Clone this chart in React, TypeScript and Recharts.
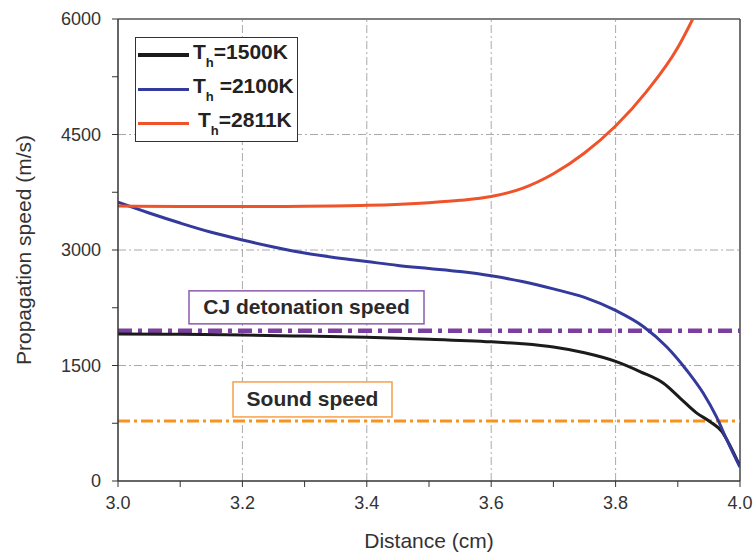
import React from "react";
import {
  LineChart,
  Line,
  XAxis,
  YAxis,
  ReferenceLine,
} from "recharts";

const FONT = '"Liberation Sans", Arial, Helvetica, sans-serif';

// T_h = 1500K
const dist1500 = [3.0, 3.1, 3.2, 3.3, 3.4, 3.5, 3.6, 3.65, 3.7, 3.75, 3.8, 3.84, 3.877, 3.904, 3.93, 3.952, 3.971, 3.98, 4.0];
const speed1500 = [1910, 1905, 1895, 1882, 1866, 1842, 1808, 1782, 1740, 1665, 1553, 1418, 1269, 1074, 885, 770, 640, 520, 190];

// T_h = 2100K
const dist2100 = [3.0, 3.05, 3.1, 3.15, 3.2, 3.25, 3.3, 3.35, 3.4, 3.45, 3.5, 3.55, 3.6, 3.65, 3.7, 3.75, 3.8, 3.845, 3.882, 3.914, 3.941, 3.962, 3.979, 4.0];
const speed2100 = [3620, 3480, 3350, 3230, 3130, 3040, 2960, 2900, 2850, 2800, 2760, 2720, 2665, 2590, 2495, 2385, 2215, 2004, 1744, 1442, 1139, 835, 532, 180];

// T_h = 2811K
const dist2811 = [3.0, 3.1, 3.2, 3.3, 3.4, 3.5, 3.55, 3.6, 3.65, 3.7, 3.75, 3.8, 3.85, 3.9, 3.924, 3.95];
const speed2811 = [3570, 3565, 3565, 3568, 3580, 3615, 3645, 3695, 3800, 3990, 4260, 4610, 5060, 5630, 6000, 6450];

const seriesNames = ["1500K", "2100K", "2811K"];
const seriesColors = ["#1b1b1b", "#343a9c", "#f0522a"];

const cjSpeed = 1950;
const soundSpeed = 780;

const xTicks = [3.0, 3.1, 3.2, 3.3, 3.4, 3.5, 3.6, 3.7, 3.8, 3.9, 4.0];
const yTicks = [0, 750, 1500, 2250, 3000, 3750, 4500, 5250, 6000];
const xGrid = [3.2, 3.4, 3.6, 3.8];
const yGrid = [1500, 3000, 4500];

const toData = (xs: number[], ys: number[]) => xs.map((x, i) => ({ x, y: ys[i] }));
const seriesData = [
  toData(dist1500, speed1500),
  toData(dist2100, speed2100),
  toData(dist2811, speed2811),
];

function BoxLabel(props: any) {
  const { viewBox, text, color, dx, up, w, h } = props;
  const x = viewBox.x + dx;
  const y = viewBox.y - up;
  return (
    <g>
      <rect x={x} y={y} width={w} height={h} fill="#fff" stroke={color} strokeWidth={1.5} />
      <text
        x={x + w / 2}
        y={y + h / 2 + 7}
        textAnchor="middle"
        fontFamily={FONT}
        fontWeight="bold"
        fontSize={21}
        fill="#2a2a2a"
      >
        {text}
      </text>
    </g>
  );
}

function ChartLegend() {
  return (
    <div
      style={{
        position: "absolute",
        left: 135,
        top: 37,
        width: 161,
        height: 103,
        border: "1.5px solid #333",
        background: "#fff",
        fontFamily: FONT,
        fontWeight: "bold",
        fontSize: 21,
        color: "#222",
      }}
    >
      {seriesNames.map((name, i) => (
        <div
          key={name}
          style={{ position: "absolute", left: 2, top: 4 + i * 34, display: "flex", alignItems: "center", height: 26 }}
        >
          <div style={{ width: 51, height: i === 0 ? 4 : 3, background: seriesColors[i] }} />
          <span style={{ marginLeft: i === 2 ? 9 : 4, whiteSpace: "nowrap" }}>
            T<sub style={{ fontSize: 13, verticalAlign: -8 }}>h</sub>
            {i === 1 ? " " : ""}={name}
          </span>
        </div>
      ))}
    </div>
  );
}

export default function App() {
  const tickStyle = { fontSize: 18, fill: "#333", fontFamily: FONT };
  return (
    <div style={{ position: "absolute", left: 0, top: 0, width: 754, height: 554, background: "#fff" }}>
      <LineChart width={754} height={554} margin={{ top: 19, right: 14, bottom: 0, left: 0 }}>
        <XAxis
          type="number"
          dataKey="x"
          domain={[3, 4]}
          ticks={xTicks}
          tickFormatter={(v: number) => (Math.round(v * 10) % 2 === 0 ? v.toFixed(1) : "")}
          tick={tickStyle}
          tickSize={6}
          tickMargin={9}
          height={73}
          axisLine={{ stroke: "#333", strokeWidth: 1.5 }}
          tickLine={{ stroke: "#333" }}
          allowDataOverflow
          label={{ value: "Distance (cm)", position: "insideBottom", offset: 6, style: { fontSize: 21, fill: "#333", fontFamily: FONT } }}
        />
        <YAxis
          type="number"
          domain={[0, 6000]}
          ticks={yTicks}
          tickFormatter={(v: number) => (v % 1500 === 0 ? String(v) : "")}
          tick={tickStyle}
          tickSize={6}
          tickMargin={11}
          width={118}
          axisLine={{ stroke: "#333", strokeWidth: 1.5 }}
          tickLine={{ stroke: "#333" }}
          allowDataOverflow
          label={{
            value: "Propagation speed (m/s)",
            angle: -90,
            position: "insideLeft",
            offset: 24,
            style: { textAnchor: "middle", fontSize: 21, fill: "#333", fontFamily: FONT },
          }}
        />
        {yGrid.map((v) => (
          <ReferenceLine key={"gy" + v} y={v} stroke="#aaa" strokeDasharray="8 3 2 3" />
        ))}
        {xGrid.map((v) => (
          <ReferenceLine key={"gx" + v} x={v} stroke="#aaa" strokeDasharray="8 3 2 3" />
        ))}
        <ReferenceLine y={6000} stroke="#555" strokeWidth={1.5} />
        <ReferenceLine x={4} stroke="#444" strokeWidth={1.5} />
        <ReferenceLine
          y={cjSpeed}
          stroke="#7b3f9f"
          strokeWidth={4.5}
          strokeDasharray="14 6 4 6"
          label={(p: any) => (
            <BoxLabel {...p} text="CJ detonation speed" color="#8b5bb0" dx={71} up={40} w={235} h={33} />
          )}
        />
        <ReferenceLine
          y={soundSpeed}
          stroke="#f7931e"
          strokeWidth={3}
          strokeDasharray="12 4 3 4"
          label={(p: any) => (
            <BoxLabel {...p} text="Sound speed" color="#f5a04a" dx={115} up={39} w={159} h={35} />
          )}
        />
        {seriesData.map((d, i) => (
          <Line
            key={seriesNames[i]}
            data={d}
            dataKey="y"
            name={seriesNames[i]}
            type="monotone"
            stroke={seriesColors[i]}
            strokeWidth={3}
            dot={false}
            isAnimationActive={false}
          />
        ))}
      </LineChart>
      <ChartLegend />
    </div>
  );
}
